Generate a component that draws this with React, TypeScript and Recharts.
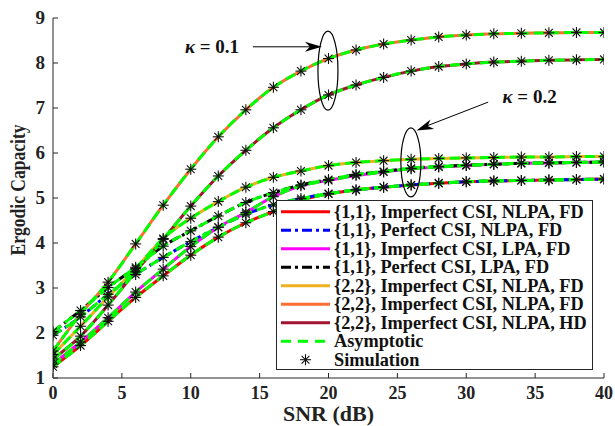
import React from 'react';
import { ComposedChart, Line, XAxis, YAxis, Legend, ReferenceDot, ReferenceLine } from 'recharts';

// SNR grid (dB) – simulation points every 2 dB
const snr = [0, 2, 4, 6, 8, 10, 12, 14, 16, 18, 20, 22, 24, 26, 28, 30, 32, 34, 36, 38, 40];

// ergodic capacity
const imperfect11Nlpa = [1.25, 1.72, 2.26, 2.79, 3.27, 3.73, 4.13, 4.45, 4.7, 4.95, 5.09, 5.18, 5.24, 5.29, 5.33, 5.36, 5.38, 5.39, 5.4, 5.41, 5.42];
const perfect11Nlpa = [1.95, 2.36, 2.86, 3.3, 3.68, 4.03, 4.35, 4.64, 4.85, 4.99, 5.1, 5.18, 5.24, 5.29, 5.33, 5.36, 5.38, 5.39, 5.4, 5.41, 5.42];
const imperfect11Lpa = [1.31, 1.8, 2.34, 2.91, 3.42, 3.92, 4.35, 4.68, 5.03, 5.27, 5.39, 5.5, 5.58, 5.65, 5.69, 5.72, 5.75, 5.77, 5.78, 5.79, 5.8];
const perfect11Lpa = [2.03, 2.5, 3.01, 3.46, 3.93, 4.27, 4.6, 4.9, 5.12, 5.29, 5.41, 5.52, 5.59, 5.66, 5.7, 5.73, 5.75, 5.77, 5.78, 5.79, 5.8];
const imperfect22NlpaK02 = [1.52, 2.15, 2.8, 3.43, 4.1, 4.55, 4.92, 5.24, 5.46, 5.6, 5.72, 5.79, 5.83, 5.86, 5.88, 5.89, 5.9, 5.91, 5.91, 5.92, 5.92];
const imperfect22NlpaK01 = [1.6, 2.42, 3.13, 3.98, 4.84, 5.64, 6.36, 6.96, 7.46, 7.82, 8.1, 8.29, 8.42, 8.51, 8.58, 8.62, 8.65, 8.66, 8.67, 8.68, 8.68];
const imperfect22NlpaHd = [1.42, 1.93, 2.62, 3.36, 4.08, 4.82, 5.49, 6.06, 6.56, 6.96, 7.29, 7.51, 7.68, 7.82, 7.92, 7.98, 8.02, 8.04, 8.06, 8.07, 8.08];

const xTicks = [0, 5, 10, 15, 20, 25, 30, 35, 40];
const yTicks = [1, 2, 3, 4, 5, 6, 7, 8, 9];

const series = [
  { key: 'a', name: '{1,1}, Imperfect CSI, NLPA, FD', values: imperfect11Nlpa, color: '#ff0000', dash: undefined as string | undefined },
  { key: 'b', name: '{1,1}, Perfect CSI, NLPA, FD', values: perfect11Nlpa, color: '#0000ff', dash: '10 4 3 4' },
  { key: 'c', name: '{1,1}, Imperfect CSI, LPA, FD', values: imperfect11Lpa, color: '#ff00ff', dash: undefined },
  { key: 'd', name: '{1,1}, Perfect CSI, LPA, FD', values: perfect11Lpa, color: '#000000', dash: '10 4 3 4' },
  { key: 'e', name: '{2,2}, Imperfect CSI, NLPA, FD', values: imperfect22NlpaK02, color: '#edb120', dash: undefined },
  { key: 'f', name: '{2,2}, Imperfect CSI, NLPA, FD', values: imperfect22NlpaK01, color: '#ff6e30', dash: undefined },
  { key: 'g', name: '{2,2}, Imperfect CSI, NLPA, HD', values: imperfect22NlpaHd, color: '#a2142f', dash: undefined },
];

const data = snr.map((x, i) => {
  const row: Record<string, number> = { snr: x };
  series.forEach((s) => { row[s.key] = s.values[i]; });
  return row;
});

const FONT = '"Liberation Serif", "Times New Roman", serif';
const AXIS = '#262626';
const GREEN = '#00ff00';

const BottomTick = ({ x, y, payload }: any) => (
  <g>
    <line x1={x} x2={x} y1={y} y2={y - 5} stroke={AXIS} />
    <text x={x} y={y + 21} textAnchor="middle" fontFamily={FONT} fontWeight="bold" fontSize={18} fill="#222">{payload.value}</text>
  </g>
);
const LeftTick = ({ x, y, payload }: any) => (
  <g>
    <line x1={x} x2={x + 5} y1={y} y2={y} stroke={AXIS} />
    <text x={x - 8} y={y + 6} textAnchor="end" fontFamily={FONT} fontWeight="bold" fontSize={19} fill="#222">{payload.value}</text>
  </g>
);
const TopTick = ({ x, y }: any) => <line x1={x} x2={x} y1={y} y2={y + 5} stroke={AXIS} />;
const RightTick = ({ x, y }: any) => <line x1={x} x2={x - 5} y1={y} y2={y} stroke={AXIS} />;

const XTitle = ({ viewBox }: any) => (
  <text x={viewBox.x + viewBox.width / 2} y={viewBox.y + 43} textAnchor="middle" fontFamily={FONT} fontWeight="bold" fontSize={20}
    textLength={91} lengthAdjust="spacingAndGlyphs" fill="#222">SNR (dB)</text>
);
const YTitle = ({ viewBox }: any) => {
  const x = viewBox.x + 12;
  const y = viewBox.y + viewBox.height / 2 - 8;
  return (
    <text x={x} y={y} transform={`rotate(-90 ${x} ${y})`} textAnchor="middle" fontFamily={FONT} fontWeight="bold" fontSize={21}
      textLength={131} lengthAdjust="spacingAndGlyphs" fill="#222">Ergodic Capacity</text>
  );
};

const Asterisk = (props: any) => {
  const { cx, cy } = props;
  if (cx == null || cy == null) return <g />;
  const r = 5.5;
  const d = 3.9;
  return (
    <g stroke="#111" strokeWidth={1.1}>
      <line x1={cx - r} x2={cx + r} y1={cy} y2={cy} />
      <line x1={cx} x2={cx} y1={cy - r} y2={cy + r} />
      <line x1={cx - d} x2={cx + d} y1={cy - d} y2={cy + d} />
      <line x1={cx - d} x2={cx + d} y1={cy + d} y2={cy - d} />
    </g>
  );
};

const arrowHead = (angle: number) => (props: any) => (
  <path d="M0,0 L-17,-5 L-12,0 L-17,5 Z" fill="#000" transform={`translate(${props.cx},${props.cy}) rotate(${angle})`} />
);
const ellipseShape = (rx: number, ry: number) => (props: any) => (
  <ellipse cx={props.cx} cy={props.cy} rx={rx} ry={ry} fill="none" stroke="#000" strokeWidth={1.2} />
);
const kappaLabel = (value: string) => (props: any) => (
  <text x={props.cx} y={props.cy + 6} textAnchor="middle" fontFamily={FONT} fontWeight="bold" fontSize={19} fill="#111">
    <tspan fontStyle="italic">κ</tspan>{` = ${value}`}
  </text>
);

const LegendBox = () => (
  <svg width={317} height={170} style={{ display: 'block' }}>
    <rect x={0.5} y={0.5} width={316} height={169} fill="#fff" stroke={AXIS} />
    {series.map((s, i) => {
      const cy = 11.7 + i * 18.5;
      return (
        <g key={s.key}>
          <line x1={5} x2={54} y1={cy} y2={cy} stroke={s.color} strokeWidth={3} strokeDasharray={s.dash} />
          <text x={58} y={cy + 6} fontFamily={FONT} fontWeight="bold" fontSize={18.3} fill="#111">{s.name}</text>
        </g>
      );
    })}
    <line x1={5} x2={54} y1={11.7 + 7 * 18.5} y2={11.7 + 7 * 18.5} stroke={GREEN} strokeWidth={3} strokeDasharray="10 7" />
    <text x={58} y={11.7 + 7 * 18.5 + 6} fontFamily={FONT} fontWeight="bold" fontSize={18.3} fill="#111">Asymptotic</text>
    <Asterisk cx={29.5} cy={11.7 + 8 * 18.5} />
    <text x={58} y={11.7 + 8 * 18.5 + 6} fontFamily={FONT} fontWeight="bold" fontSize={18.3} fill="#111">Simulation</text>
  </svg>
);

export default function App() {
  return (
    <div style={{ position: 'absolute', left: 0, top: 0, width: 615, height: 426, background: '#fff' }}>
      <ComposedChart width={615} height={426} data={data} margin={{ top: 18, right: 11, bottom: 18, left: 13 }}>
        <XAxis dataKey="snr" type="number" domain={[0, 40]} ticks={xTicks} tickSize={0} tickMargin={0}
          tick={<BottomTick />} axisLine={{ stroke: AXIS }} height={30} label={<XTitle />} allowDataOverflow />
        <XAxis xAxisId="top" orientation="top" type="number" domain={[0, 40]} ticks={xTicks} tickSize={0} tickMargin={0}
          tick={<TopTick />} axisLine={{ stroke: AXIS }} height={0} allowDataOverflow />
        <YAxis type="number" domain={[1, 9]} ticks={yTicks} tickSize={0} tickMargin={0}
          tick={<LeftTick />} axisLine={{ stroke: AXIS }} width={40} label={<YTitle />} allowDataOverflow />
        <YAxis yAxisId="right" orientation="right" type="number" domain={[1, 9]} ticks={yTicks} tickSize={0} tickMargin={0}
          tick={<RightTick />} axisLine={{ stroke: AXIS }} width={0} allowDataOverflow />

        {series.map((s) => (
          <Line key={`l-${s.key}`} type="monotone" dataKey={s.key} stroke={s.color} strokeWidth={3}
            strokeDasharray={s.dash} dot={false} activeDot={false} isAnimationActive={false} legendType="none" />
        ))}
        {series.map((s) => (
          <Line key={`g-${s.key}`} type="monotone" dataKey={s.key} stroke={GREEN} strokeWidth={3}
            strokeDasharray="10 5" dot={false} activeDot={false} isAnimationActive={false} legendType="none" />
        ))}
        {series.map((s) => (
          <Line key={`m-${s.key}`} dataKey={s.key} stroke="none" dot={<Asterisk />} activeDot={false}
            isAnimationActive={false} legendType="none" />
        ))}

        <ReferenceDot x={11.54} y={8.36} r={1} shape={kappaLabel('0.1')} ifOverflow="visible" />
        <ReferenceLine segment={[{ x: 14.51, y: 8.36 }, { x: 19.3, y: 8.36 }]} stroke="#000" strokeWidth={1} ifOverflow="visible" />
        <ReferenceDot x={19.52} y={8.36} r={1} shape={arrowHead(0)} ifOverflow="visible" />
        <ReferenceDot x={19.96} y={7.83} r={1} shape={ellipseShape(10, 39.5)} ifOverflow="visible" />

        <ReferenceDot x={34.6} y={7.24} r={1} shape={kappaLabel('0.2')} ifOverflow="visible" />
        <ReferenceLine segment={[{ x: 31.59, y: 7.13 }, { x: 26.7, y: 6.55 }]} stroke="#000" strokeWidth={1} ifOverflow="visible" />
        <ReferenceDot x={26.39} y={6.5} r={1} shape={arrowHead(158.4)} ifOverflow="visible" />
        <ReferenceDot x={25.98} y={5.79} r={1} shape={ellipseShape(10, 34.5)} ifOverflow="visible" />

        <Legend layout="vertical" align="center" verticalAlign="middle"
          wrapperStyle={{ left: 276, top: 200, width: 317, height: 170 }} content={() => <LegendBox />} />
      </ComposedChart>
    </div>
  );
}
